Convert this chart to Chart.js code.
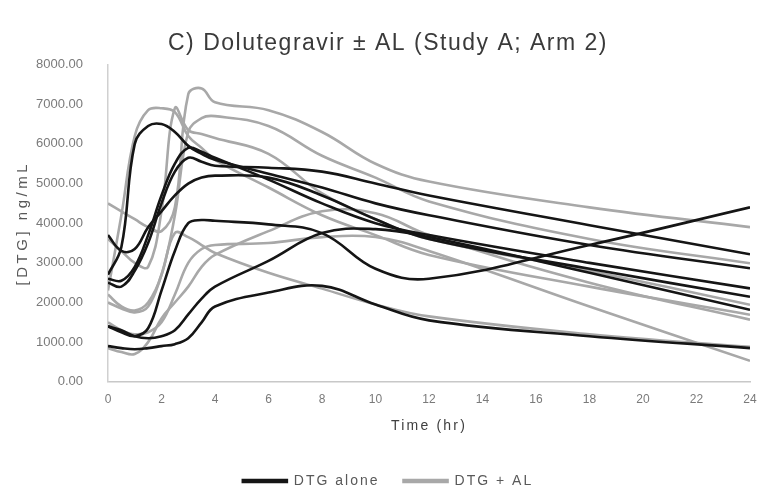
<!DOCTYPE html>
<html>
<head>
<meta charset="utf-8">
<script src="https://cdn.jsdelivr.net/npm/chart.js@4/dist/chart.umd.min.js"></script>
<style>
html,body{margin:0;padding:0;background:#fff;}
#wrap{width:761px;height:491px;}
</style>
</head>
<body>
<div id="wrap"><canvas id="c" width="761" height="491"></canvas></div>
<script>
// Sampling times (hr)
const times = [0, 0.5, 1, 1.5, 2, 2.5, 3, 3.5, 4, 6, 8, 10, 12, 18, 24];

// DTG alone (black lines), [DTG] ng/mL
const dtgAlone1 = [2700, 3400, 6000, 6450, 6500, 6300, 5950, 5750, 5600, 5250, 4900, 4500, 4200, 3450, 2862];
const dtgAlone2 = [2600, 2550, 2900, 3700, 4700, 5500, 5900, 5800, 5650, 5100, 4500, 4000, 3700, 3000, 2356];
const dtgAlone3 = [2500, 2400, 2800, 3500, 4500, 5300, 5650, 5550, 5450, 5400, 5300, 5000, 4700, 3950, 3215];
const dtgAlone4 = [3700, 3300, 3350, 3900, 4300, 4700, 5000, 5150, 5200, 5150, 4700, 4100, 3600, 2850, 2146];
const dtgAlone5 = [1400, 1250, 1150, 1350, 2300, 3300, 4000, 4080, 4060, 3970, 3750, 2850, 2600, 3450, 4400];
const dtgAlone6 = [1400, 1300, 1150, 1100, 1150, 1300, 1700, 2100, 2400, 3050, 3750, 3850, 3650, 2750, 1818];
const dtgAlone7 = [900, 850, 820, 850, 900, 950, 1100, 1500, 1900, 2250, 2420, 1950, 1550, 1150, 850];

// DTG + AL (grey lines), [DTG] ng/mL
const dtgAL1 = [4500, 4300, 4100, 3900, 3800, 4400, 7250, 7400, 7050, 6850, 6300, 5500, 5050, 4400, 3900];
const dtgAL2 = [2200, 1900, 1800, 2000, 2700, 4200, 6300, 6650, 6700, 6450, 5700, 5150, 4550, 3600, 2990];
const dtgAL3 = [2300, 4200, 6200, 6850, 6900, 6800, 6200, 5900, 5600, 4900, 4200, 3700, 3200, 2400, 1692];
const dtgAL4 = [3600, 3300, 3000, 2900, 4300, 6900, 6350, 6250, 6150, 5750, 4750, 4100, 3600, 2800, 1944];
const dtgAL5 = [2000, 1850, 1750, 1900, 2700, 3750, 3650, 3450, 3250, 2750, 2350, 1950, 1650, 1200, 880];
const dtgAL6 = [850, 750, 700, 1000, 1600, 2000, 2400, 2900, 3200, 3800, 4300, 4250, 3700, 2500, 1566];
const dtgAL7 = [1500, 1300, 1200, 1250, 1500, 2200, 3000, 3350, 3450, 3500, 3650, 3650, 3300, 1900, 530];

// Axis ticks
const yTicks = [0, 1000, 2000, 3000, 4000, 5000, 6000, 7000, 8000];
const xTicks = [0, 2, 4, 6, 8, 10, 12, 14, 16, 18, 20, 22, 24];

const aloneSeries = [dtgAlone1, dtgAlone2, dtgAlone3, dtgAlone4, dtgAlone5, dtgAlone6, dtgAlone7];
const alSeries = [dtgAL1, dtgAL2, dtgAL3, dtgAL4, dtgAL5, dtgAL6, dtgAL7];

const BLACK = '#151515';
const GREY = '#a8a8a8';
const FONT = 'Liberation Sans, Arial, sans-serif';

function mk(vals, label, color) {
  return {
    label: label,
    data: vals.map((v, i) => ({x: times[i], y: v})),
    borderColor: color,
    backgroundColor: color,
    borderWidth: 2.6,
    pointRadius: 0,
    tension: 0.4,
    fill: false
  };
}

const datasets = [];
aloneSeries.forEach(s => datasets.push(mk(s, 'DTG alone', BLACK)));
alSeries.forEach(s => datasets.push(mk(s, 'DTG + AL', GREY)));

// letter spacing for the (wide) text of the reference
function wrapSpacing(chart, obj, fn, sp, after) {
  if (!obj || obj['__w_' + fn]) return;
  const orig = obj[fn];
  obj[fn] = function() {
    const ctx = chart.ctx;
    const prev = ctx.letterSpacing;
    ctx.letterSpacing = sp;
    try {
      const r = orig.apply(this, arguments);
      if (after) after.call(this);
      return r;
    } finally {
      ctx.letterSpacing = prev;
    }
  };
  obj['__w_' + fn] = true;
}

const spacingPlugin = {
  id: 'spacing',
  beforeLayout(chart) {
    wrapSpacing(chart, chart.legend, 'fit', '2px', function() { this.height -= 7; });
    wrapSpacing(chart, chart.legend, 'draw', '2px');
    wrapSpacing(chart, chart.titleBlock, 'draw', '1.5px');
  },
  beforeDraw(chart) {
    wrapSpacing(chart, chart.scales.x, 'drawTitle', '2.2px');
    wrapSpacing(chart, chart.scales.y, 'drawTitle', '3.5px');
  }
};

new Chart(document.getElementById('c'), {
  type: 'line',
  data: {datasets},
  plugins: [spacingPlugin],
  options: {
    responsive: false,
    animation: false,
    layout: {padding: {left: 26, right: 11, top: 10, bottom: 0}},
    plugins: {
      title: {
        display: true,
        text: 'C) Dolutegravir ± AL (Study A; Arm 2)',
        color: '#3a3a3a',
        font: {family: FONT, size: 23, weight: 'normal'},
        padding: {top: 20, bottom: 7}
      },
      legend: {
        position: 'bottom',
        labels: {
          color: '#595959',
          font: {family: FONT, size: 14},
          boxWidth: 44,
          boxHeight: 2,
          padding: 24,
          filter: (item, data) => {
            const idx = data.datasets.findIndex(d => d.label === item.text);
            return idx === item.datasetIndex;
          }
        }
      },
      tooltip: {enabled: false}
    },
    scales: {
      x: {
        type: 'linear',
        min: 0,
        max: 24,
        afterBuildTicks: sc => { sc.ticks = xTicks.map(v => ({value: v})); },
        afterFit: sc => { sc.paddingLeft = 0; sc.paddingRight = 0; },
        grid: {display: false, drawTicks: false},
        border: {display: true, color: '#c8c8c8', width: 1.5},
        ticks: {
          color: '#7a7a7a',
          font: {family: FONT, size: 12},
          padding: 11,
          maxRotation: 0
        },
        title: {
          display: true,
          text: 'Time (hr)',
          color: '#404040',
          font: {family: FONT, size: 14},
          padding: {top: 0, bottom: 15}
        }
      },
      y: {
        min: 0,
        max: 8000,
        afterBuildTicks: sc => { sc.ticks = yTicks.map(v => ({value: v})); },
        afterFit: sc => { sc.width = 82; },
        grid: {display: false, drawTicks: false},
        border: {display: true, color: '#d0d0d0', width: 1.5},
        ticks: {
          color: '#7a7a7a',
          font: {family: FONT, size: 13},
          padding: 25,
          callback: v => Number(v).toFixed(2)
        },
        title: {
          display: true,
          text: '[DTG] ng/mL',
          color: '#595959',
          font: {family: FONT, size: 15, lineHeight: 1},
          padding: {top: -11, bottom: 0}
        }
      }
    }
  }
});
</script>
</body>
</html>
